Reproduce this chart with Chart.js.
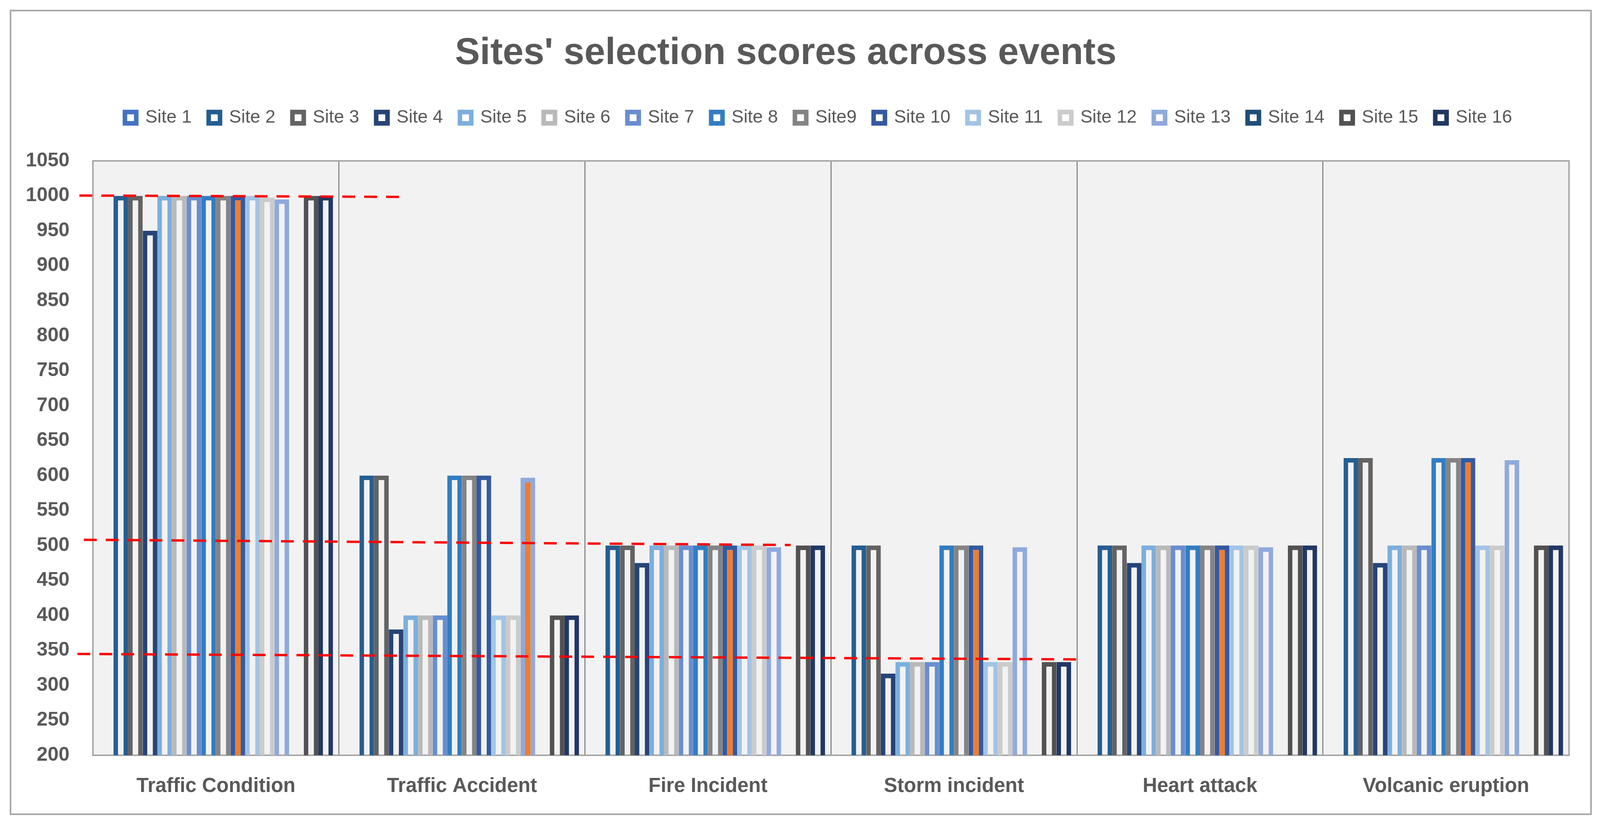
<!DOCTYPE html>
<html><head><meta charset="utf-8">
<script src="https://cdn.jsdelivr.net/npm/chart.js@4/dist/chart.umd.min.js"></script>
<style>
html,body{margin:0;padding:0;background:#fff;overflow:hidden}
#c{position:absolute;left:0;top:0}
#frame{position:absolute;box-sizing:border-box;border:4px solid #a6a6a6;pointer-events:none}
</style></head><body>
<canvas id="c"></canvas>
<div id="frame"></div>
<script>
// ---- data ----
const categories = ['Traffic Condition', 'Traffic Accident', 'Fire Incident', 'Storm incident', 'Heart attack', 'Volcanic eruption'];
const siteNames = ['Site 1', 'Site 2', 'Site 3', 'Site 4', 'Site 5', 'Site 6', 'Site 7', 'Site 8', 'Site9', 'Site 10', 'Site 11', 'Site 12', 'Site 13', 'Site 14', 'Site 15', 'Site 16'];

// Sites 1 and 14 sit on the axis floor (200) in every event
const site1  = [200, 200, 200, 200, 200, 200];
const site2  = [1000, 600, 500, 500, 500, 625];
const site3  = [1000, 600, 500, 500, 500, 625];
const site4  = [950, 380, 475, 316.7, 475, 475];
const site5  = [1000, 400, 500, 333.3, 500, 500];
const site6  = [1000, 400, 500, 333.3, 500, 500];
const site7  = [1000, 400, 500, 333.3, 500, 500];
const site8  = [1000, 600, 500, 500, 500, 625];
const site9  = [1000, 600, 500, 500, 500, 625];
const site10 = [1000, 600, 500, 500, 500, 625];
const site11 = [1000, 400, 500, 333.3, 500, 500];
const site12 = [997.5, 400, 500, 333.3, 500, 500];
const site13 = [995, 597, 497.5, 497.5, 497.5, 622];
const site14 = [200, 200, 200, 200, 200, 200];
const site15 = [1000, 400, 500, 333.3, 500, 500];
const site16 = [1000, 400, 500, 333.3, 500, 500];
const siteValues = [site1, site2, site3, site4, site5, site6, site7, site8, site9, site10, site11, site12, site13, site14, site15, site16];

// site highlighted (orange fill) in each event
const selectedSite = ['Site 10', 'Site 13', 'Site 10', 'Site 10', 'Site 10', 'Site 10'];

const yTicks = {min: 200, max: 1050, step: 50};

// red dashed reference lines (x in category units, y in score units)
const refLine1000 = [{x: -0.555, y: 1000.5}, {x: 0.766, y: 998.5}];
const refLine500  = [{x: -0.537, y: 508.2}, {x: 2.336, y: 500.7}];
const refLine340  = [{x: -0.563, y: 344.9}, {x: 3.509, y: 337.1}];
const refLines = [refLine1000, refLine500, refLine340];

// ---- styles / layout ----
const siteColors = ['#4472c4', '#255e91', '#636363', '#264478', '#7cafdd', '#b9b9b9', '#698ed0', '#327dc2',
                    '#848484', '#335aa1', '#a2c4e4', '#cbcbcb', '#8faadc', '#1f4e79', '#525252', '#203864'];
const HIGHLIGHT = '#ed7d31';
const TEXT = '#595959';
const FONT = 'Liberation Sans';

const W = window.innerWidth || 4236;
const H = window.innerHeight || 2110;
const sx = W / 4236, sy = H / 2110, fs = Math.min(sx, sy);

const canvas = document.getElementById('c');
canvas.width = W; canvas.height = H;
canvas.style.width = W + 'px'; canvas.style.height = H + 'px';

const frame = document.getElementById('frame');
frame.style.left = (26 * sx) + 'px';
frame.style.top = (25 * sy) + 'px';
frame.style.width = (4188 * sx) + 'px';
frame.style.height = (2062 * sy) + 'px';

// font sizes
const titleSize = 99 * fs, legendSize = 48 * fs, xTickSize = 53 * fs, yTickSize = 52 * fs;
// vertical layout targets (reference pixel rows)
const padTop = 30 * sy;
const titlePadTop = 137.7 * sy - padTop - 0.6 * titleSize;
const legendPad = 45 * sx;
const legendTop = 301.4 * sy - legendPad - legendSize / 2;
const titlePadBottom = legendTop - (padTop + titlePadTop + 1.2 * titleSize);
const legendBottom = legendTop + legendSize + legendPad + 10;
const spacerPad = 410 * sy - legendBottom - 10;
const xTickPad = (2013.6 - 1934) * sy - 0.6 * xTickSize;
// Chart.js reserves the tick padding twice in an axis' size
const padBottom = H - 1934 * sy - (2 * xTickPad + 1.2 * xTickSize);
// horizontal layout
const mctx = document.createElement('canvas').getContext('2d');
mctx.font = 'bold ' + yTickSize + 'px "' + FONT + '"';
const yLabelW = mctx.measureText('1050').width;
const yTickPad = 62 * sx;
const padLeft = Math.max(0, 246 * sx - yLabelW - 2 * yTickPad);
const padRight = W - 4154 * sx;
const legendShift = 33 * sx;

const barSets = siteNames.map((name, i) => ({
  label: name,
  data: siteValues[i],
  borderColor: siteColors[i],
  backgroundColor: (c) => (c.type === 'data' && selectedSite[c.dataIndex] === name) ? HIGHLIGHT : 'rgba(0,0,0,0)',
  borderWidth: 12 * sx,
  borderSkipped: false,
  minBarLength: 7 * sy,
  categoryPercentage: 0.952,
  barPercentage: 1.0,
  clip: 0
}));

const plotFrame = {
  id: 'plotFrame',
  afterLayout(chart) {
    if (chart.legend) { chart.legend.left -= legendShift; chart.legend.right -= legendShift; }
  },
  beforeDraw(chart) {
    const {ctx, chartArea: a} = chart;
    ctx.save();
    ctx.fillStyle = '#f2f2f2';
    ctx.fillRect(a.left, a.top, a.right - a.left, a.bottom - a.top);
    ctx.restore();
  },
  beforeDatasetsDraw(chart) {
    const {ctx, chartArea: a} = chart;
    ctx.save();
    ctx.strokeStyle = '#a6a6a6';
    ctx.lineWidth = 4 * sx;
    ctx.strokeRect(a.left, a.top, a.right - a.left, a.bottom - a.top);
    ctx.restore();
  }
};

const refLinePlugin = {
  id: 'refLines',
  afterDatasetsDraw(chart) {
    const {ctx, scales: {x, y}} = chart;
    ctx.save();
    ctx.strokeStyle = '#ff0000';
    ctx.lineWidth = 6 * sy;
    ctx.setLineDash([34 * sx, 24 * sx]);
    ctx.lineCap = 'butt';
    refLines.forEach(pts => {
      ctx.beginPath();
      pts.forEach((p, k) => {
        const px = x.getPixelForValue(p.x), py = y.getPixelForValue(p.y);
        if (k === 0) ctx.moveTo(px, py); else ctx.lineTo(px, py);
      });
      ctx.stroke();
    });
    ctx.restore();
  }
};

new Chart(canvas, {
  type: 'bar',
  data: {labels: categories, datasets: barSets},
  plugins: [plotFrame, refLinePlugin],
  options: {
    responsive: false,
    devicePixelRatio: 1,
    animation: false,
    events: [],
    layout: {padding: {left: padLeft, right: padRight, top: padTop, bottom: padBottom}},
    scales: {
      x: {
        type: 'category',
        offset: true,
        grid: {display: true, offset: true, color: '#888888', lineWidth: 3 * sx, drawTicks: false},
        border: {display: false},
        ticks: {color: TEXT, font: {family: FONT, size: xTickSize, weight: 'bold'}, padding: xTickPad, maxRotation: 0, autoSkip: false}
      },
      y: {
        min: yTicks.min, max: yTicks.max,
        grid: {display: false, drawTicks: false},
        border: {display: false},
        ticks: {stepSize: yTicks.step, color: TEXT, font: {family: FONT, size: yTickSize, weight: 'bold'},
                padding: yTickPad, callback: (v) => String(v)}
      }
    },
    plugins: {
      title: {
        display: true,
        text: "Sites' selection scores across events",
        color: TEXT,
        font: {family: FONT, size: titleSize, weight: 'bold'},
        padding: {top: titlePadTop, bottom: titlePadBottom}
      },
      subtitle: {display: true, text: ' ', font: {size: 10}, padding: {top: spacerPad, bottom: 0}},
      legend: {
        display: true,
        position: 'top',
        weight: 1800,
        fullSize: false,
        labels: {
          color: TEXT,
          font: {family: FONT, size: legendSize},
          boxWidth: 30 * fs,
          boxHeight: 30 * fs,
          padding: legendPad,
          generateLabels: (chart) => Chart.defaults.plugins.legend.labels.generateLabels(chart)
            .map(l => Object.assign(l, {fillStyle: '#ffffff'}))
        }
      },
      tooltip: {enabled: false}
    }
  }
});
</script>
</body></html>
